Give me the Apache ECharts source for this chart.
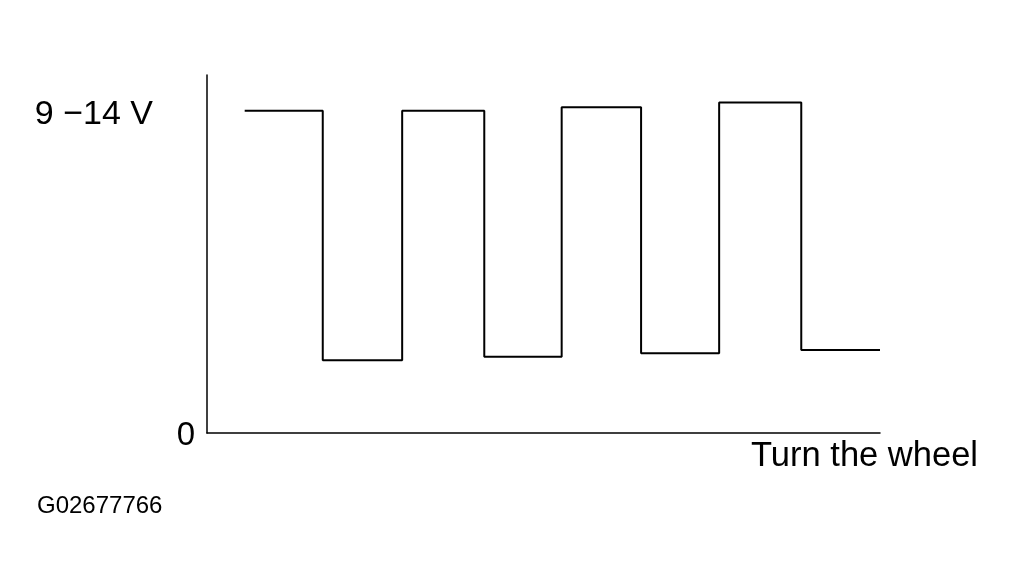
<!DOCTYPE html>
<html>
<head>
<meta charset="utf-8">
<script src="https://cdn.jsdelivr.net/npm/echarts@6/dist/echarts.min.js"></script>
<style>
html,body{margin:0;padding:0;background:#fff;}
#chart{width:1018px;height:588px;}
</style>
</head>
<body>
<div id="chart"></div>
<script>
// Time positions of each edge of the square wave (arbitrary units, 0..100)
const edges = [5.6, 17.2, 29.0, 41.2, 52.7, 64.5, 76.1, 88.3, 100];
// Signal level for each segment between consecutive edges (arbitrary units, 0..100)
const levels = [90.0, 20.3, 90.0, 21.3, 91.0, 22.3, 92.3, 23.2];
// Y tick labels
const yTickValues = [0, 88.9];
const yTickLabels = ['0', '9 −14 V'];
const xAxisName = 'Turn the wheel';
const figureId = 'G02677766';

const points = [];
for (let i = 0; i < levels.length; i++) {
  points.push([edges[i], levels[i]]);
  points.push([edges[i + 1], levels[i]]);
}

const FONT = '"Liberation Sans", Arial, Helvetica, sans-serif';
const chart = echarts.init(document.getElementById('chart'), null, {renderer: 'canvas'});
chart.setOption({
  backgroundColor: '#fff',
  animation: false,
  title: {
    text: figureId,
    left: 37,
    top: 494,
    padding: 0,
    textStyle: {fontFamily: FONT, fontSize: 24, fontWeight: 'normal', color: '#000'}
  },
  grid: {left: 207, top: 75, right: 138, bottom: 155, containLabel: false},
  xAxis: {
    type: 'value',
    min: 0,
    max: 100,
    name: xAxisName,
    nameLocation: 'end',
    nameGap: 98,
    nameTextStyle: {
      fontFamily: FONT, fontSize: 34.5, color: '#000',
      align: 'right', verticalAlign: 'top', padding: [6, 0, 0, 0]
    },
    axisLine: {show: true, lineStyle: {color: '#000', width: 1.5}},
    axisTick: {show: false},
    axisLabel: {show: false},
    splitLine: {show: false}
  },
  yAxis: {
    type: 'value',
    min: 0,
    max: 100,
    axisLine: {show: true, lineStyle: {color: '#000', width: 1.5}},
    axisTick: {show: false},
    splitLine: {show: false},
    axisLabel: {
      show: true,
      customValues: yTickValues,
      margin: 12,
      formatter: function (v) {
        const idx = yTickValues.indexOf(v);
        if (idx === 0) return '{z|' + yTickLabels[0] + '}';
        if (idx === 1) return '{v|' + yTickLabels[1] + '}';
        return '';
      },
      rich: {
        z: {fontFamily: FONT, fontSize: 33, color: '#000', padding: [6, 0, 0, 0]},
        v: {fontFamily: FONT, fontSize: 34, color: '#000', padding: [0, 42, 0, 0]}
      }
    }
  },
  series: [{
    type: 'line',
    data: points,
    symbol: 'none',
    lineStyle: {color: '#000', width: 2},
    silent: true
  }]
});
</script>
</body>
</html>
